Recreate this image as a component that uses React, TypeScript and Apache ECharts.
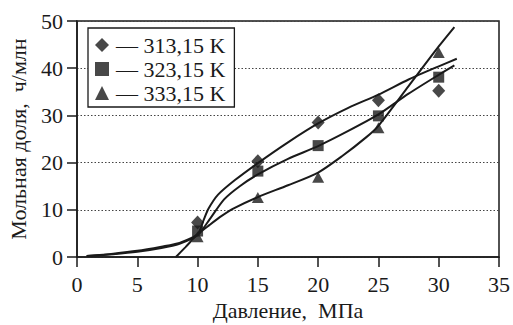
import React, { useEffect, useRef } from "react";
import * as echarts from "echarts";

const seriesNames = ["313,15 K", "323,15 K", "333,15 K"];
const xTicks = [0, 5, 10, 15, 20, 25, 30, 35];
const yTicks = [0, 10, 20, 30, 40, 50];

// measured points
const pts313 = [[10, 7.3], [15, 20.3], [20, 28.5], [25, 33.2], [30, 35.2]];
const pts323 = [[10, 5.5], [15, 18.2], [20, 23.6], [25, 29.9], [30, 38.1]];
const pts333 = [[10, 4.3], [15, 12.6], [20, 16.9], [25, 27.4], [30, 43.3]];

// fitted curves
const curve313 = [[0.8, 0.2], [3, 0.7], [5, 1.3], [7, 2.2], [8.5, 3.0], [10, 4.8], [10.5, 7.8], [10.9, 10.2], [11.7, 13.2], [13.1, 16.3], [15, 19.9], [17.5, 24.3], [20, 28.3], [22.5, 31.6], [25, 34.4], [27.5, 37.6], [30, 40.4], [31.5, 42.0]];
const curve323 = [[0.8, 0.2], [3, 0.6], [5, 1.1], [7, 1.9], [8.5, 2.8], [10, 4.6], [10.9, 7.6], [12.2, 12.2], [13.5, 15.0], [15, 17.5], [17.5, 20.8], [20, 23.5], [22.5, 26.7], [25, 30.2], [27.5, 34.6], [30, 38.6], [31.3, 40.6]];
const curve333 = [[8.2, 0], [9, 2.1], [10, 4.8], [11, 6.8], [12, 8.7], [13, 10.3], [15, 12.7], [17.5, 15.2], [20, 17.9], [22, 21.4], [24, 25.4], [25, 27.8], [27.5, 36.2], [30, 44.6], [31.3, 48.7]];

const FONT = "Liberation Serif, serif";
const INK = "#1a1a1a";

export default function App() {
  const ref = useRef<HTMLDivElement>(null);
  useEffect(() => {
    if (!ref.current) return;
    const chart = echarts.init(ref.current, null, { renderer: "svg" });
    const lineSeries = (data: number[][]) => ({
      type: "line",
      data,
      showSymbol: false,
      smooth: 0.25,
      lineStyle: { color: INK, width: 2 },
      z: 3,
      silent: true,
    });
    chart.setOption({
      animation: false,
      backgroundColor: "#fff",
      textStyle: { fontFamily: FONT },
      grid: {
        left: 77,
        right: 14,
        top: 21,
        bottom: 68,
        outerBoundsMode: "none",
        containLabel: false,
        show: true,
        borderColor: INK,
        borderWidth: 1.5,
      },
      legend: {
        data: seriesNames.map((n, i) => ({ name: n, icon: ["diamond", "rect", "triangle"][i] })),
        orient: "vertical",
        left: 88,
        top: 28,
        itemWidth: 14,
        itemHeight: 14,
        itemGap: 2,
        padding: [6, 9, 3, 7],
        backgroundColor: "#fff",
        borderColor: INK,
        borderWidth: 1.3,
        borderRadius: 0,
        selectedMode: false,
        formatter: (name: string) => "— " + name,
        textStyle: { fontFamily: FONT, fontSize: 22, lineHeight: 22, color: INK, padding: [0, 0, 0, 2] },
      },
      xAxis: {
        type: "value",
        min: xTicks[0],
        max: xTicks[xTicks.length - 1],
        interval: 5,
        name: "Давление,  МПа",
        nameLocation: "middle",
        nameGap: 42,
        nameTextStyle: { fontFamily: FONT, fontSize: 22, color: INK },
        axisLine: { show: true, lineStyle: { color: INK, width: 1.5 } },
        axisTick: { show: true, inside: false, length: 10, lineStyle: { color: INK, width: 1.5 } },
        axisLabel: { fontFamily: FONT, fontSize: 22, color: INK, margin: 16 },
        splitLine: { show: false },
      },
      yAxis: {
        type: "value",
        min: yTicks[0],
        max: yTicks[yTicks.length - 1],
        interval: 10,
        name: "Мольная доля,  ч/млн",
        nameLocation: "middle",
        nameGap: 48,
        nameRotate: 90,
        nameTextStyle: { fontFamily: FONT, fontSize: 22, color: INK },
        axisLine: { show: true, lineStyle: { color: INK, width: 1.5 } },
        axisTick: { show: true, inside: false, length: 10, lineStyle: { color: INK, width: 1.5 } },
        axisLabel: { fontFamily: FONT, fontSize: 22, color: INK, margin: 14 },
        splitLine: { show: true, lineStyle: { color: "#444", width: 1.2, type: [1.5, 2] } },
      },
      series: [
        lineSeries(curve313),
        lineSeries(curve323),
        lineSeries(curve333),
        { name: seriesNames[0], type: "scatter", data: pts313, symbol: "diamond", symbolSize: [13, 14], itemStyle: { color: INK }, z: 4 },
        { name: seriesNames[1], type: "scatter", data: pts323, symbol: "rect", symbolSize: 11, itemStyle: { color: INK }, z: 4 },
        { name: seriesNames[2], type: "scatter", data: pts333, symbol: "triangle", symbolSize: [12, 11], itemStyle: { color: INK }, z: 4 },
      ],
    });
    return () => chart.dispose();
  }, []);
  return <div ref={ref} style={{ position: "fixed", left: 0, top: 0, width: 513, height: 325 }} />;
}
